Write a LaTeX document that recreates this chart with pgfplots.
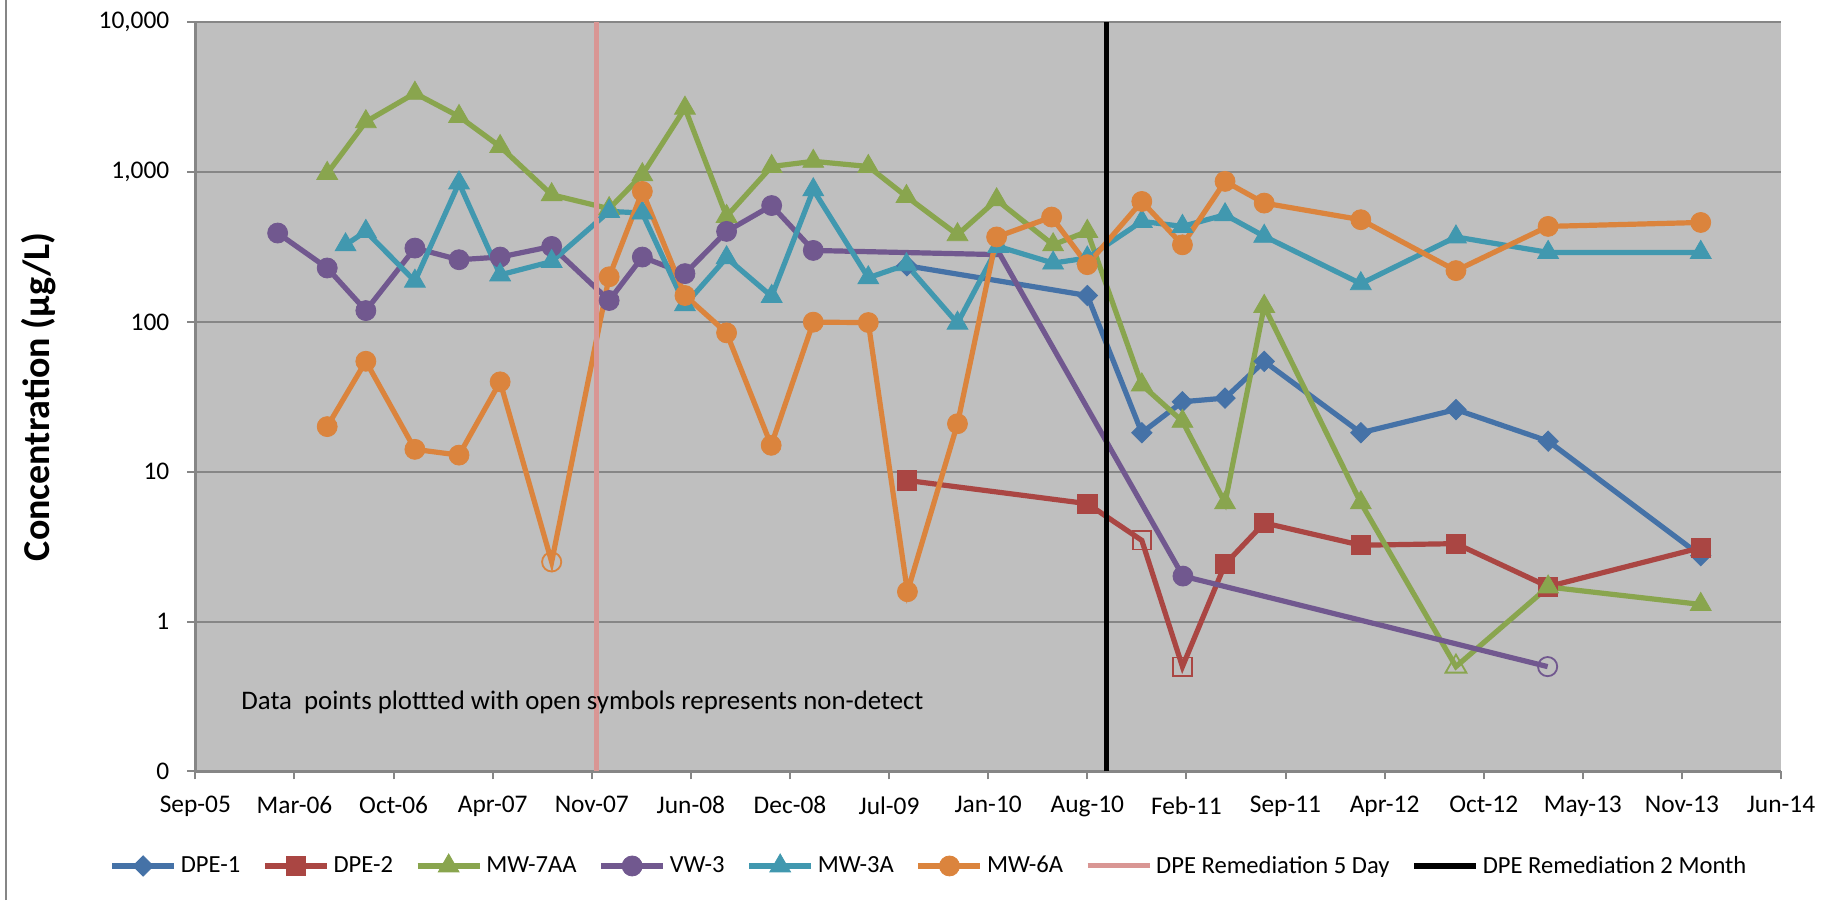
\documentclass[border=0pt]{standalone}
\usepackage{pgfplots}
\pgfplotsset{compat=1.18}
\usepackage{fontspec}
\setmainfont{Carlito}
\definecolor{cA}{HTML}{4572A7}
\definecolor{cB}{HTML}{AA4643}
\definecolor{cC}{HTML}{89A54E}
\definecolor{cD}{HTML}{71588F}
\definecolor{cE}{HTML}{4198AF}
\definecolor{cF}{HTML}{DB843D}
\definecolor{pinkc}{HTML}{D99694}
\definecolor{plotbg}{HTML}{BFBFBF}
\definecolor{axisgray}{HTML}{868686}
\pgfplotsset{
  ln/.style={line width=2.6pt, no markers},
  mk/.style={only marks, mark options={solid, line width=0.4pt}},
  ho/.style={only marks, mark options={solid, line width=0.9pt, fill=none}},
}
\begin{document}
\begin{tikzpicture}
\begin{axis}[
  at={(0pt,0pt)}, anchor=south west,
  scale only axis, width=792.8pt, height=374.5pt,
  xmin=0, xmax=3200, ymode=log, ymin=0.1, ymax=10000,
  axis x line*=bottom, axis y line*=left,
  axis line style={draw=axisgray, line width=1.2pt, -},
  axis background/.style={fill=plotbg},
  xtick={0,200,...,3200},
  xticklabels={Sep-05,Mar-06,Oct-06,Apr-07,Nov-07,Jun-08,Dec-08,Jul-09,Jan-10,Aug-10,Feb-11,Sep-11,Apr-12,Oct-12,May-13,Nov-13,Jun-14},
  ytick={0.1,1,10,100,1000,10000},
  yticklabels={0,1,10,100,{1,000},{10,000}},
  yminorticks=false, xminorticks=false,
  tick align=outside, major tick length=4pt,
  tick style={draw=axisgray, line width=1pt},
  ymajorgrids, grid style={draw=axisgray, line width=1pt},
  /pgf/number format/assume math mode=true,
  ticklabel style={font=\fontsize{12.7}{14}\selectfont},
  xticklabel style={yshift=-5pt},
  yticklabel style={xshift=-5.5pt},
  ylabel={Concentration (µg/L)},
  ylabel style={font=\bfseries\fontsize{19}{22}\selectfont, at={(axis description cs:-0.0989,0.5)}, anchor=center},
  legend columns=8,
  legend style={at={(axis description cs:0.4633,-0.1264)}, anchor=center, draw=none, fill=none,
    font=\fontsize{12.3}{14}\selectfont,
    /tikz/every even column/.append style={column sep=9pt}},
  legend image code/.code={\draw[mark repeat=2,mark phase=2] plot coordinates {(0pt,0pt) (15.5pt,0pt) (31pt,0pt)};},
]
% DPE-1
\addplot[forget plot, ln, cA] coordinates {(1436,237)(1800,150)(1910,18.2)(1992,29.3)(2078,31)(2157,54.5)(2352,18.2)(2544,26)(2730,16)(3038,2.75)};
\addplot[forget plot, mk, cA, mark=square*, mark size=3.6pt, mark options={rotate=45, fill=cA}] coordinates {(1436,237)(1800,150)(1910,18.2)(1992,29.3)(2078,31)(2157,54.5)(2352,18.2)(2544,26)(2730,16)(3038,2.75)};
% DPE-2
\addplot[forget plot, ln, cB] coordinates {(1436,8.75)(1800,6.12)(1910,3.48)(1992,0.5)(2078,2.41)(2157,4.55)(2352,3.23)(2544,3.31)(2730,1.71)(3038,3.11)};
\addplot[forget plot, mk, cB, mark=square*, mark size=4.8pt, mark options={fill=cB}] coordinates {(1436,8.75)(1800,6.12)(2078,2.41)(2157,4.55)(2352,3.23)(2544,3.31)(2730,1.71)(3038,3.11)};
\addplot[forget plot, ho, cB, mark=square, mark size=4.6pt] coordinates {(1910,3.48)(1992,0.5)};
% MW-7AA
\addplot[forget plot, ln, cC] coordinates {(266,980)(344,2170)(443,3360)(532,2350)(615,1480)(719,706)(835,570)(902,960)(988,2670)(1072,506)(1163,1090)(1247,1180)(1358,1090)(1435,687)(1538,382)(1617,653)(1731,327)(1800,402)(1910,38)(1992,21.7)(2078,6.2)(2157,127)(2352,6.2)(2544,0.5)(2730,1.7)(3038,1.3)};
\addplot[forget plot, mk, cC, mark=triangle*, mark size=6pt, mark options={fill=cC}] coordinates {(266,980)(344,2170)(443,3360)(532,2350)(615,1480)(719,706)(835,570)(902,960)(988,2670)(1072,506)(1163,1090)(1247,1180)(1358,1090)(1435,687)(1538,382)(1617,653)(1731,327)(1800,402)(1910,38)(1992,21.7)(2078,6.2)(2157,127)(2352,6.2)(2730,1.7)(3038,1.3)};
\addplot[forget plot, ho, cC, mark=triangle, mark size=6pt] coordinates {(2544,0.5)};
% VW-3
\addplot[forget plot, ln, cD] coordinates {(166,392)(266,229)(344,119)(443,311)(532,260)(615,271)(719,319)(835,139)(902,271)(988,210)(1072,402)(1163,598)(1247,300)(1624,281)(1993,2.01)(2729,0.5)};
\addplot[forget plot, mk, cD, mark=*, mark size=5pt, mark options={fill=cD}] coordinates {(166,392)(266,229)(344,119)(443,311)(532,260)(615,271)(719,319)(835,139)(902,271)(988,210)(1072,402)(1163,598)(1247,300)(1993,2.01)};
\addplot[forget plot, ho, cD, mark=o, mark size=4.8pt] coordinates {(2729,0.5)};
% MW-3A
\addplot[forget plot, ln, cE] coordinates {(303,327)(344,402)(443,187)(532,846)(615,206)(719,253)(835,547)(902,533)(988,130)(1072,268)(1163,148)(1247,762)(1358,197)(1435,241)(1538,98)(1620,319)(1731,247)(1800,267)(1910,469)(1992,434)(2078,519)(2157,373)(2352,180)(2544,369)(2730,291)(3038,291)};
\addplot[forget plot, mk, cE, mark=triangle*, mark size=6pt, mark options={fill=cE}] coordinates {(303,327)(344,402)(443,187)(532,846)(615,206)(719,253)(835,547)(902,533)(988,130)(1072,268)(1163,148)(1247,762)(1358,197)(1435,241)(1538,98)(1620,319)(1731,247)(1800,267)(1910,469)(1992,434)(2078,519)(2157,373)(2352,180)(2544,369)(2730,291)(3038,291)};
% MW-6A
\addplot[forget plot, ln, cF] coordinates {(266,20)(344,54.6)(443,14.1)(532,12.9)(615,39.8)(719,2.5)(835,200)(902,743)(988,150)(1072,84.5)(1162,15)(1247,99.6)(1358,99)(1437,1.58)(1538,20.9)(1617,369)(1728,501)(1800,241)(1910,637)(1992,327)(2078,867)(2157,621)(2352,481)(2544,220)(2730,434)(3038,461)};
\addplot[forget plot, mk, cF, mark=*, mark size=5pt, mark options={fill=cF}] coordinates {(266,20)(344,54.6)(443,14.1)(532,12.9)(615,39.8)(835,200)(902,743)(988,150)(1072,84.5)(1162,15)(1247,99.6)(1358,99)(1437,1.58)(1538,20.9)(1617,369)(1728,501)(1800,241)(1910,637)(1992,327)(2078,867)(2157,621)(2352,481)(2544,220)(2730,434)(3038,461)};
\addplot[forget plot, ho, cF, mark=o, mark size=4.8pt] coordinates {(719,2.5)};
% remediation lines
\addplot[forget plot, pinkc, line width=2.5pt, no markers] coordinates {(810,0.1)(810,10000)};
\addplot[forget plot, black, line width=2.6pt, no markers] coordinates {(1839,0.1)(1839,10000)};
% note
\node[anchor=west, inner sep=0pt, font=\fontsize{13.4}{16}\selectfont] at (rel axis cs:0.0288,0.0925) {Data\ \ points plottted with open symbols represents non-detect};
% legend
\addlegendimage{cA, line width=2.6pt, mark=square*, mark size=3.6pt, mark options={solid, rotate=45, fill=cA, line width=0.4pt}}
\addlegendentry{DPE-1}
\addlegendimage{cB, line width=2.6pt, mark=square*, mark size=4.8pt, mark options={solid, fill=cB, line width=0.4pt}}
\addlegendentry{DPE-2}
\addlegendimage{cC, line width=2.6pt, mark=triangle*, mark size=6pt, mark options={solid, fill=cC, line width=0.4pt}}
\addlegendentry{MW-7AA}
\addlegendimage{cD, line width=2.6pt, mark=*, mark size=5pt, mark options={solid, fill=cD, line width=0.4pt}}
\addlegendentry{VW-3}
\addlegendimage{cE, line width=2.6pt, mark=triangle*, mark size=6pt, mark options={solid, fill=cE, line width=0.4pt}}
\addlegendentry{MW-3A}
\addlegendimage{cF, line width=2.6pt, mark=*, mark size=5pt, mark options={solid, fill=cF, line width=0.4pt}}
\addlegendentry{MW-6A}
\addlegendimage{pinkc, line width=2.5pt, no markers}
\addlegendentry{DPE Remediation 5 Day}
\addlegendimage{black, line width=2.6pt, no markers}
\addlegendentry{DPE Remediation 2 Month}
\end{axis}
\draw[axisgray, line width=1pt] (-94.7pt,-64.35pt) -- (-94.7pt,385.65pt);
\pgfresetboundingbox
\path[use as bounding box] (-97.7pt,-64.35pt) rectangle (819.8pt,385.65pt);
\end{tikzpicture}
\end{document}
